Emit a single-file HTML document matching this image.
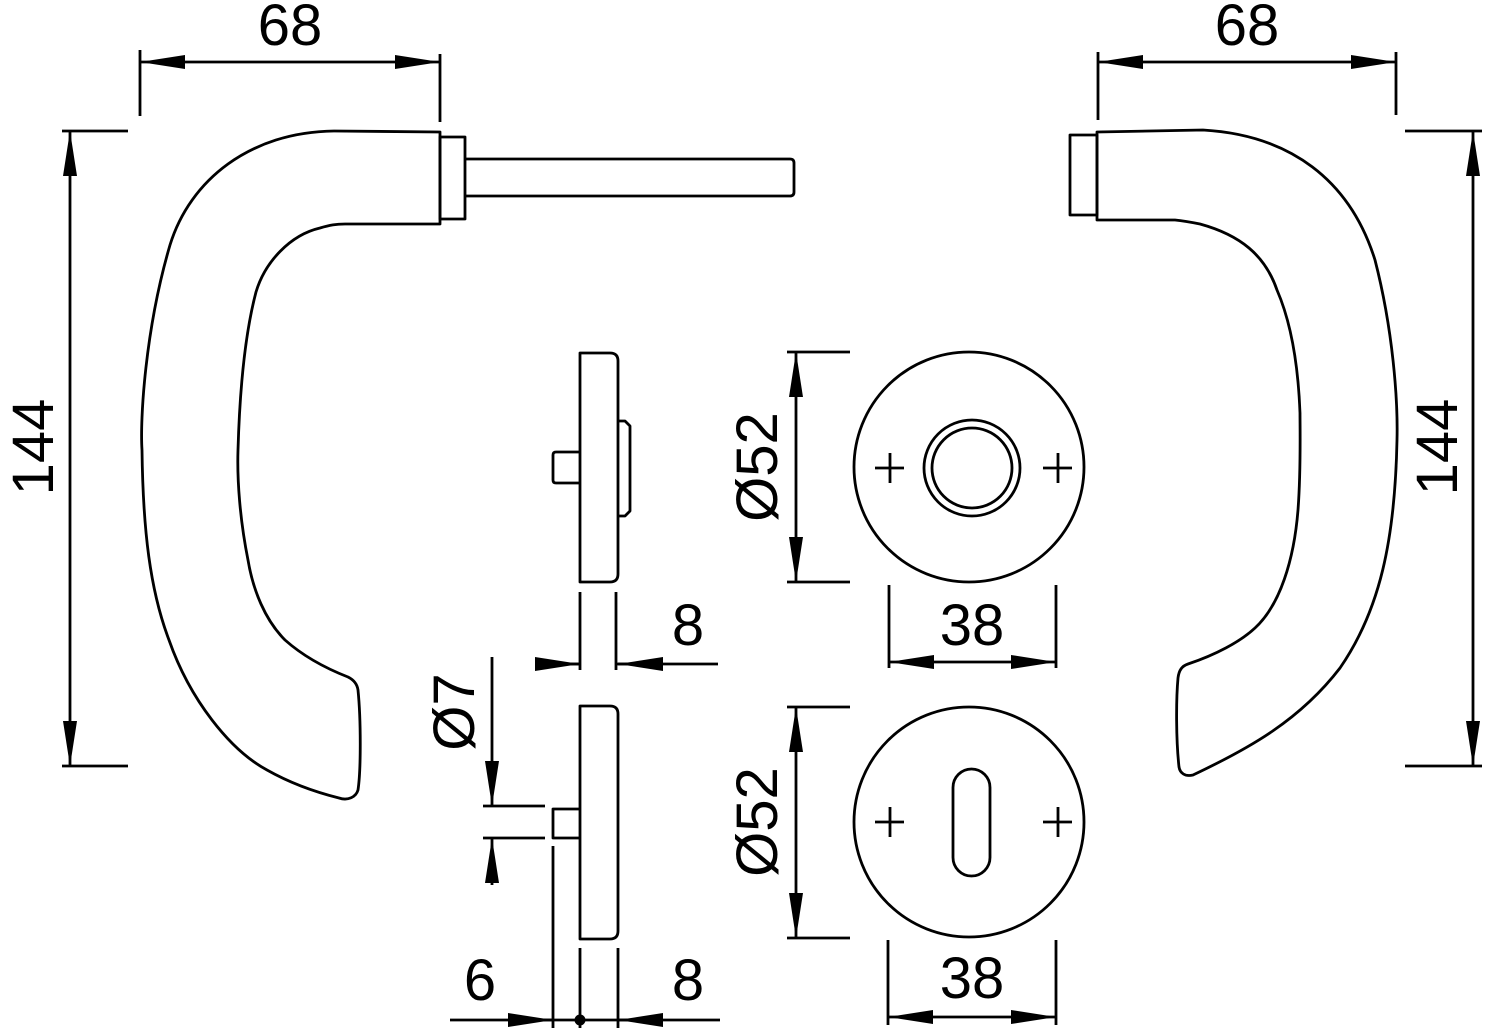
<!DOCTYPE html>
<html><head><meta charset="utf-8"><style>html,body{margin:0;padding:0;background:#fff}svg{display:block}</style></head>
<body>
<svg width="1490" height="1031" viewBox="0 0 1490 1031" xmlns="http://www.w3.org/2000/svg">
<defs>
<marker id="a" viewBox="0 0 45 20" refX="45" refY="10" markerWidth="45" markerHeight="20" markerUnits="userSpaceOnUse" orient="auto"><path d="M0,3 L45,10 L0,17 Z" fill="#000"/></marker>
</defs>
<g fill="none" stroke="#000" stroke-width="2.8" stroke-linejoin="round">
<path d="M440,132 L334,131 C250,132 190,180 170,245 C145,330 140,420 142,450 C143,530 150,590 169,640 C190,700 230,750 267,770 C290,783 315,792 339,798 C348,801 356,797 358,790 C361,770 361,720 358,690 C357,683 352,679 348,677 C325,668 303,656 285,640 C265,620 253,590 248,560 C240,520 237,480 238,450 C240,380 246,330 256,292 C265,262 290,235 320,228 C330,225 336,224 345,224 L440,224 Z"/>
<rect x="440" y="137" width="25" height="82"/>
<path d="M465,159 L790,159 Q794,159 794,163 L794,192 Q794,196 790,196 L465,196"/>
<path d="M1097,132 L1203,130 C1290,135 1350,180 1375,260 C1393,330 1398,400 1397,440 C1395,540 1380,610 1340,668 C1300,720 1250,748 1193,775 C1185,777 1180,773 1179,767 C1176,740 1176,700 1178,678 C1179,670 1182,666 1188,664 C1215,655 1240,642 1255,628 C1280,605 1294,560 1298,510 C1301,470 1300,430 1300,413 C1298,360 1290,320 1277,290 C1265,255 1240,235 1200,224 C1190,222 1185,221 1175,220 L1097,220 Z"/>
<rect x="1070" y="135" width="27" height="80"/>
<path d="M580,353 L610,353 Q618,353 618,361 L618,574 Q618,582 610,582 L580,582 Z"/>
<path d="M580,452 L556,452 Q553,452 553,455 L553,480 Q553,483 556,483 L580,483"/>
<path d="M618,421 L625,421 L630,426 L630,511 L625,516 L618,516"/>
<path d="M580,706 L610,706 Q618,706 618,714 L618,931 Q618,939 610,939 L580,939 Z"/>
<path d="M580,809 L553,809 L553,838 L580,838"/>
<circle cx="969" cy="467" r="115"/>
<circle cx="972" cy="468" r="48"/>
<circle cx="972" cy="468" r="40"/>
<circle cx="969" cy="822" r="115"/>
<rect x="953" y="769" width="37" height="107" rx="18.5"/>
<path d="M875,468 H904 M890,453 V483 M1043,468 H1072 M1058,453 V483 M875,822 H904 M890,807 V837 M1043,822 H1072 M1058,807 V837"/>
</g>
<g fill="none" stroke="#000" stroke-width="2.8">
<path d="M140,50 V116 M440,54 V122 M62,131 H128 M62,766 H128"/>
<path d="M290,62 H140" marker-end="url(#a)"/><path d="M290,62 H440" marker-end="url(#a)"/>
<path d="M70,450 V131" marker-end="url(#a)"/><path d="M70,450 V766" marker-end="url(#a)"/>
<path d="M1098,52 V120 M1396,52 V115 M1405,131 H1482 M1405,766 H1482"/>
<path d="M1247,62 H1098" marker-end="url(#a)"/><path d="M1247,62 H1396" marker-end="url(#a)"/>
<path d="M1473,450 V131" marker-end="url(#a)"/><path d="M1473,450 V766" marker-end="url(#a)"/>
<path d="M580,592 V670 M616,592 V670 M535,664 H580 M616,664 H718"/>
<path d="M535,664 H580" marker-end="url(#a)"/><path d="M663,664 H618" marker-end="url(#a)"/>
<path d="M483,806 H545 M483,838 H545 M553,846 V1028 M580,948 V1028 M618,948 V1028"/>
<path d="M492,657 V806" marker-end="url(#a)"/><path d="M492,885 V838" marker-end="url(#a)"/>
<path d="M450,1020 H720"/>
<path d="M508,1020 H553" marker-end="url(#a)"/><path d="M663,1020 H618" marker-end="url(#a)"/>
<path d="M787,352 H850 M787,582 H850 M787,707 H850 M787,938 H850"/>
<path d="M796,467 V352" marker-end="url(#a)"/><path d="M796,467 V582" marker-end="url(#a)"/>
<path d="M796,822 V707" marker-end="url(#a)"/><path d="M796,822 V938" marker-end="url(#a)"/>
<path d="M889,585 V668 M1056,585 V668 M888,940 V1025 M1056,940 V1025"/>
<path d="M972,662 H889" marker-end="url(#a)"/><path d="M972,662 H1056" marker-end="url(#a)"/>
<path d="M972,1017 H888" marker-end="url(#a)"/><path d="M972,1017 H1056" marker-end="url(#a)"/>
</g>
<circle cx="580" cy="1020" r="5.5" fill="#000"/>
<g font-family="Liberation Sans, Arial, sans-serif" font-size="58" fill="#000" text-anchor="middle">
<text x="290" y="45">68</text>
<text x="1247" y="45">68</text>
<text transform="translate(53,447) rotate(-90)">144</text>
<text transform="translate(1457,447) rotate(-90)">144</text>
<text x="688" y="645">8</text>
<text x="688" y="1000">8</text>
<text x="480" y="1000">6</text>
<text x="972" y="645">38</text>
<text x="972" y="998">38</text>
<text transform="translate(777,467) rotate(-90)">Ø52</text>
<text transform="translate(777,822) rotate(-90)">Ø52</text>
<text transform="translate(474,712) rotate(-90)">Ø7</text>
</g>
</svg>
</body></html>
